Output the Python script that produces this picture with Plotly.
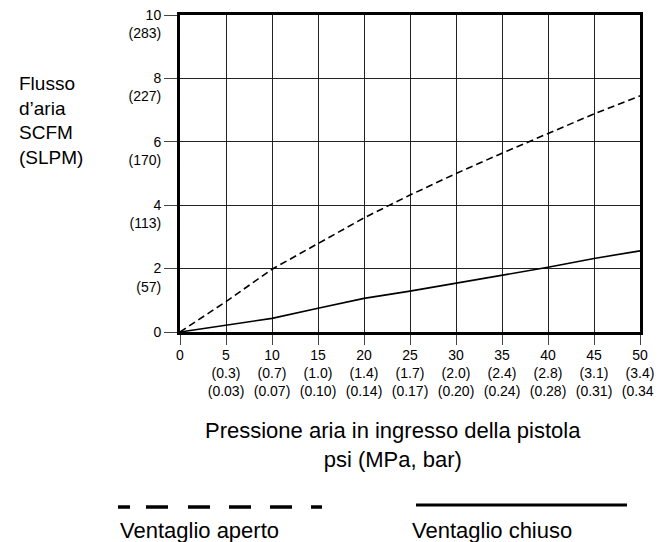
import plotly.graph_objects as go

# pressione in psi
psi = [0, 5, 10, 15, 20, 25, 30, 35, 40, 45, 50]
# flusso d'aria SCFM
aperto = [0, 0.96, 1.98, 2.8, 3.6, 4.32, 5.0, 5.64, 6.27, 6.88, 7.45]
chiuso = [0, 0.22, 0.43, 0.75, 1.06, 1.29, 1.54, 1.78, 2.04, 2.32, 2.56]

x_ticks = [0, 5, 10, 15, 20, 25, 30, 35, 40, 45, 50]
x_mpa = ["", "0.3", "0.7", "1.0", "1.4", "1.7", "2.0", "2.4", "2.8", "3.1", "3.4"]
x_bar = ["", "0.03", "0.07", "0.10", "0.14", "0.17", "0.20", "0.24", "0.28", "0.31", "0.34"]
y_ticks = [0, 2, 4, 6, 8, 10]
y_slpm = ["", "57", "113", "170", "227", "283"]

FONT = "Liberation Sans, Arial, Helvetica, sans-serif"
# la pagina ha un margine di 8px attorno al grafico
OFF = 8
W, H = 662 - OFF, 542 - OFF
L, R, T, B = 180 - OFF, 22, 15 - OFF, 210


def px(x):
    # coordinate della finestra -> paper
    return (x - OFF - L) / (W - L - R)


def py(y):
    return (H - B - (y - OFF)) / (H - B - T)


x_text = [str(v) if not m else f"{v}<br>({m})<br>({b})" for v, m, b in zip(x_ticks, x_mpa, x_bar)]
y_text = [f"{v}<br>({s})" if s else f"{v}<br>\u00a0" for v, s in zip(y_ticks, y_slpm)]

fig = go.Figure()
fig.add_trace(go.Scatter(x=psi, y=aperto, mode="lines",
                         line=dict(color="black", width=1.6, dash="7px,4px"),
                         name="Ventaglio aperto"))
fig.add_trace(go.Scatter(x=psi, y=chiuso, mode="lines",
                         line=dict(color="black", width=1.6),
                         name="Ventaglio chiuso"))

axis_common = dict(showline=True, mirror=True, linecolor="black", linewidth=3,
                   showgrid=True, gridcolor="#222", gridwidth=1, zeroline=False,
                   ticks="outside", tickcolor="#444", tickwidth=1, automargin=False,
                   ticklabeloverflow="allow",
                   tickfont=dict(family=FONT, size=14, color="black"))

fig.update_xaxes(range=[0, 50], tickmode="array", tickvals=x_ticks, ticktext=x_text,
                 ticklen=10, ticklabelstandoff=-2, **axis_common)
fig.update_yaxes(range=[0, 10], tickmode="array", tickvals=y_ticks, ticktext=y_text,
                 ticklen=13, ticklabelshift=9, **axis_common)

# titolo asse y
fig.add_annotation(x=px(17), y=py(71), xref="paper", yref="paper",
                   xanchor="left", yanchor="top", align="left", showarrow=False,
                   text="Flusso<br>d\u2019aria<br>SCFM<br>(SLPM)",
                   font=dict(family=FONT, size=19, color="black"))
# titolo asse x
fig.add_annotation(x=px(393), y=py(416), xref="paper", yref="paper",
                   xanchor="center", yanchor="top", align="center", showarrow=False,
                   text="Pressione aria in ingresso della pistola<br>psi (MPa, bar)",
                   font=dict(family=FONT, size=22, color="black"))

# legenda
fig.add_shape(type="line", xref="paper", yref="paper",
              x0=px(118), x1=px(322), y0=py(507), y1=py(507),
              line=dict(color="black", width=3.5,
                        dash="12px,16px,22px,20px,22px,19px,22px,19px,22px,19px,11px"))
fig.add_shape(type="line", xref="paper", yref="paper",
              x0=px(416), x1=px(627), y0=py(505), y1=py(505),
              line=dict(color="black", width=3))
fig.add_annotation(x=px(118), y=py(530), xref="paper", yref="paper",
                   xanchor="left", yanchor="middle", showarrow=False,
                   text="Ventaglio aperto", font=dict(family=FONT, size=22, color="black"))
fig.add_annotation(x=px(410), y=py(530), xref="paper", yref="paper",
                   xanchor="left", yanchor="middle", showarrow=False,
                   text="Ventaglio chiuso", font=dict(family=FONT, size=22, color="black"))

fig.update_layout(width=W, height=H, showlegend=False,
                  plot_bgcolor="white", paper_bgcolor="white",
                  margin=dict(l=L, r=R, t=T, b=B, autoexpand=False))

fig.write_html("out.html")
